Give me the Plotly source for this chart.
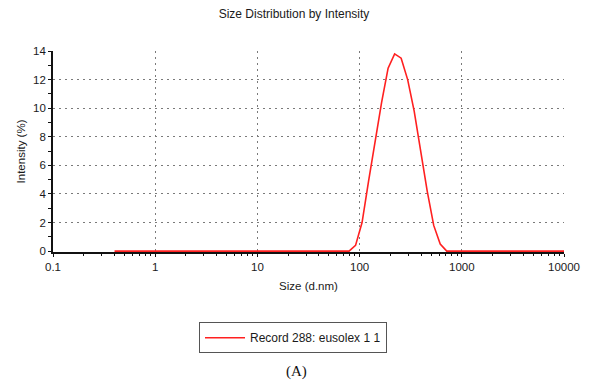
import plotly.graph_objects as go

# Size bins (d.nm) and intensity (%)
sizes = [0.4, 78.82, 91.28, 105.7, 122.4, 141.8, 164.2, 190.1, 220.2, 255.0,
         295.3, 342.0, 396.1, 458.7, 531.2, 615.1, 712.4, 10000]
intensity = [0.0, 0.0, 0.4, 2.0, 4.9, 7.8, 10.4, 12.8, 13.8, 13.5,
             12.0, 9.8, 7.0, 4.2, 1.8, 0.5, 0.0, 0.0]

x_tickvals = [0.1, 1, 10, 100, 1000, 10000]
x_ticktext = ["0.1", "1", "10", "100", "1000", "10000"]
y_tickvals = [0, 2, 4, 6, 8, 10, 12, 14]

font_family = "Liberation Sans, Arial, sans-serif"
txt = "#1a1a1a"
grid_dash = "1.5px,4.5px"

fig = go.Figure()
fig.add_trace(go.Scatter(
    x=sizes, y=intensity, mode="lines",
    line=dict(color="#ff2020", width=1.6),
    name="Record 288: eusolex 1 1",
))

fig.update_layout(
    width=590, height=389,
    margin=dict(l=53, r=26, t=51, b=137, autoexpand=False),
    paper_bgcolor="white", plot_bgcolor="white",
    font=dict(family=font_family, size=11.5, color=txt),
    title=dict(text="Size Distribution by Intensity", x=294 / 590, xanchor="center",
               xref="container", y=1 - 14 / 389, yanchor="middle",
               font=dict(family=font_family, size=12, color=txt)),
    showlegend=True,
    legend=dict(x=(199 - 53) / 511, y=(251.7 - 322) / 201, xanchor="left", yanchor="top",
                bordercolor="#555555", borderwidth=1, bgcolor="white",
                tracegroupgap=0, itemwidth=40,
                font=dict(family=font_family, size=12, color=txt)),
)

fig.update_xaxes(
    type="log", range=[-1, 4],
    tickmode="array", tickvals=x_tickvals, ticktext=x_ticktext,
    showline=True, linecolor="#111111", linewidth=1.8,
    ticks="outside", ticklen=3, tickcolor="#111111",
    minor=dict(dtick="D1", ticks="outside", ticklen=2, tickcolor="#111111", showgrid=False),
    showgrid=True, gridcolor="#7a7a7a", griddash=grid_dash, gridwidth=1,
    zeroline=False, layer="below traces",
    title=dict(text="Size (d.nm)", standoff=10, font=dict(size=11.5, color=txt)),
)
fig.update_yaxes(
    range=[-0.06, 14],
    tickmode="array", tickvals=y_tickvals,
    showline=True, linecolor="#111111", linewidth=1.8,
    ticks="outside", ticklen=3, tickcolor="#111111",
    minor=dict(dtick=1, ticks="outside", ticklen=3, tickcolor="#111111", showgrid=False),
    showgrid=True, gridcolor="#7a7a7a", griddash=grid_dash, gridwidth=1,
    zeroline=False, layer="below traces",
    title=dict(text="Intensity (%)", standoff=5, font=dict(size=11.5, color=txt)),
)

fig.add_annotation(
    text="(A)", xref="paper", yref="paper",
    x=(296 - 53) / 511, y=(251.7 - 371) / 201,
    xanchor="center", yanchor="middle", showarrow=False,
    font=dict(family="Liberation Serif, Times New Roman, serif", size=15, color="#111111"),
)

fig.write_html("out.html", config={"displayModeBar": False},
               post_script="document.body.style.margin='0';document.body.style.overflow='hidden';")
